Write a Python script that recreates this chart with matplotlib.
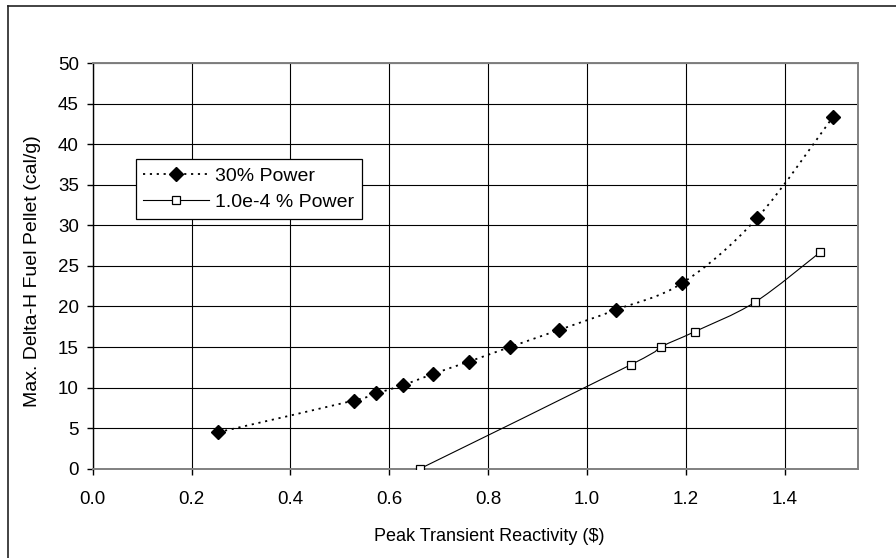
import numpy as np
import matplotlib
matplotlib.use('Agg')
import matplotlib.pyplot as plt
from matplotlib.path import Path
from matplotlib.patches import PathPatch
from matplotlib.lines import Line2D

plt.rcParams['font.family'] = ['Liberation Sans', 'DejaVu Sans']

# data
react_30 = [0.254, 0.528, 0.574, 0.628, 0.689, 0.761, 0.844, 0.943, 1.059, 1.193, 1.344, 1.498]
dh_30 = [4.5, 8.4, 9.3, 10.3, 11.7, 13.2, 15.0, 17.1, 19.6, 22.9, 30.9, 43.4]

react_lo = [0.662, 1.088, 1.149, 1.218, 1.339, 1.472]
dh_lo = [0.0, 12.8, 15.0, 16.9, 20.5, 26.7]

xticks = [0.0, 0.2, 0.4, 0.6, 0.8, 1.0, 1.2, 1.4]
yticks = [0, 5, 10, 15, 20, 25, 30, 35, 40, 45, 50]


def smooth_path(xs, ys):
    # Excel-style smoothed line: cubic bezier segments through the points
    p = np.column_stack([xs, ys]).astype(float)
    n = len(p)
    verts = [p[0]]
    codes = [Path.MOVETO]
    for i in range(n - 1):
        p0 = p[i - 1] if i > 0 else p[i]
        p3 = p[i + 2] if i + 2 < n else p[i + 1]
        c1 = p[i] + (p[i + 1] - p0) / 6.0
        c2 = p[i + 1] - (p3 - p[i]) / 6.0
        verts += [c1, c2, p[i + 1]]
        codes += [Path.CURVE4] * 3
    return Path(verts, codes)


fig = plt.figure(figsize=(8.96, 5.58), dpi=100)
ax = fig.add_axes([0.1035, 0.160, 0.854, 0.727])

dot_style = (0, (1.2, 2.6))
ax.add_patch(PathPatch(smooth_path(react_30, dh_30), fill=False, color='black',
                       lw=1.3, linestyle=dot_style, zorder=3))
ax.add_patch(PathPatch(smooth_path(react_lo, dh_lo), fill=False, color='black',
                       lw=0.8, zorder=3))
ax.plot(react_30, dh_30, linestyle='none', marker='D', ms=7, color='black', zorder=4)
ax.plot(react_lo, dh_lo, linestyle='none', marker='s', ms=6, mfc='white',
        mec='black', mew=0.9, zorder=4)

ax.set_xlim(0, 1.548)
ax.set_ylim(0, 50)
ax.set_xticks(xticks)
ax.set_xticklabels(['%.1f' % v for v in xticks])
ax.set_yticks(yticks)
ax.tick_params(axis='both', labelsize=13.5, length=4, width=1, direction='out', color='black')
ax.tick_params(axis='x', pad=12)
ax.tick_params(axis='y', pad=6)
ax.grid(True, color='black', lw=0.8)
ax.set_axisbelow(True)

for s in ['top', 'right', 'bottom']:
    ax.spines[s].set_color('#808080')
    ax.spines[s].set_linewidth(1.4)
ax.spines['left'].set_color('black')
ax.spines['left'].set_linewidth(1.0)

ax.set_xlabel('Peak Transient Reactivity ($)', fontsize=13, va='center')
ax.xaxis.set_label_coords(0.518, -0.168)
ax.set_ylabel('Max. Delta-H Fuel Pellet (cal/g)', fontsize=14, va='center')
ax.yaxis.set_label_coords(-0.079, 0.487)

handles = [
    Line2D([], [], color='black', lw=1.3, linestyle=dot_style, marker='D', ms=7),
    Line2D([], [], color='black', lw=0.8, marker='s', ms=6, mfc='white', mec='black', mew=0.9),
]
leg = ax.legend(handles, ['30% Power', '1.0e-4 % Power'], loc='upper left',
                bbox_to_anchor=(0.056, 0.763), borderaxespad=0, fontsize=14,
                fancybox=False, framealpha=1, edgecolor='black', handlelength=3.4,
                handletextpad=0.3, borderpad=0.4, labelspacing=0.45)
leg.get_frame().set_linewidth(0.9)

# chart area border (left and top visible)
bx = 7.5 / 896
by = 1 - 5.5 / 558
fig.add_artist(Line2D([bx, bx], [0, by], color='#222222', lw=1.2, transform=fig.transFigure))
fig.add_artist(Line2D([bx, 1], [by, by], color='#222222', lw=1.2, transform=fig.transFigure))

fig.savefig('out.png', dpi=100)
